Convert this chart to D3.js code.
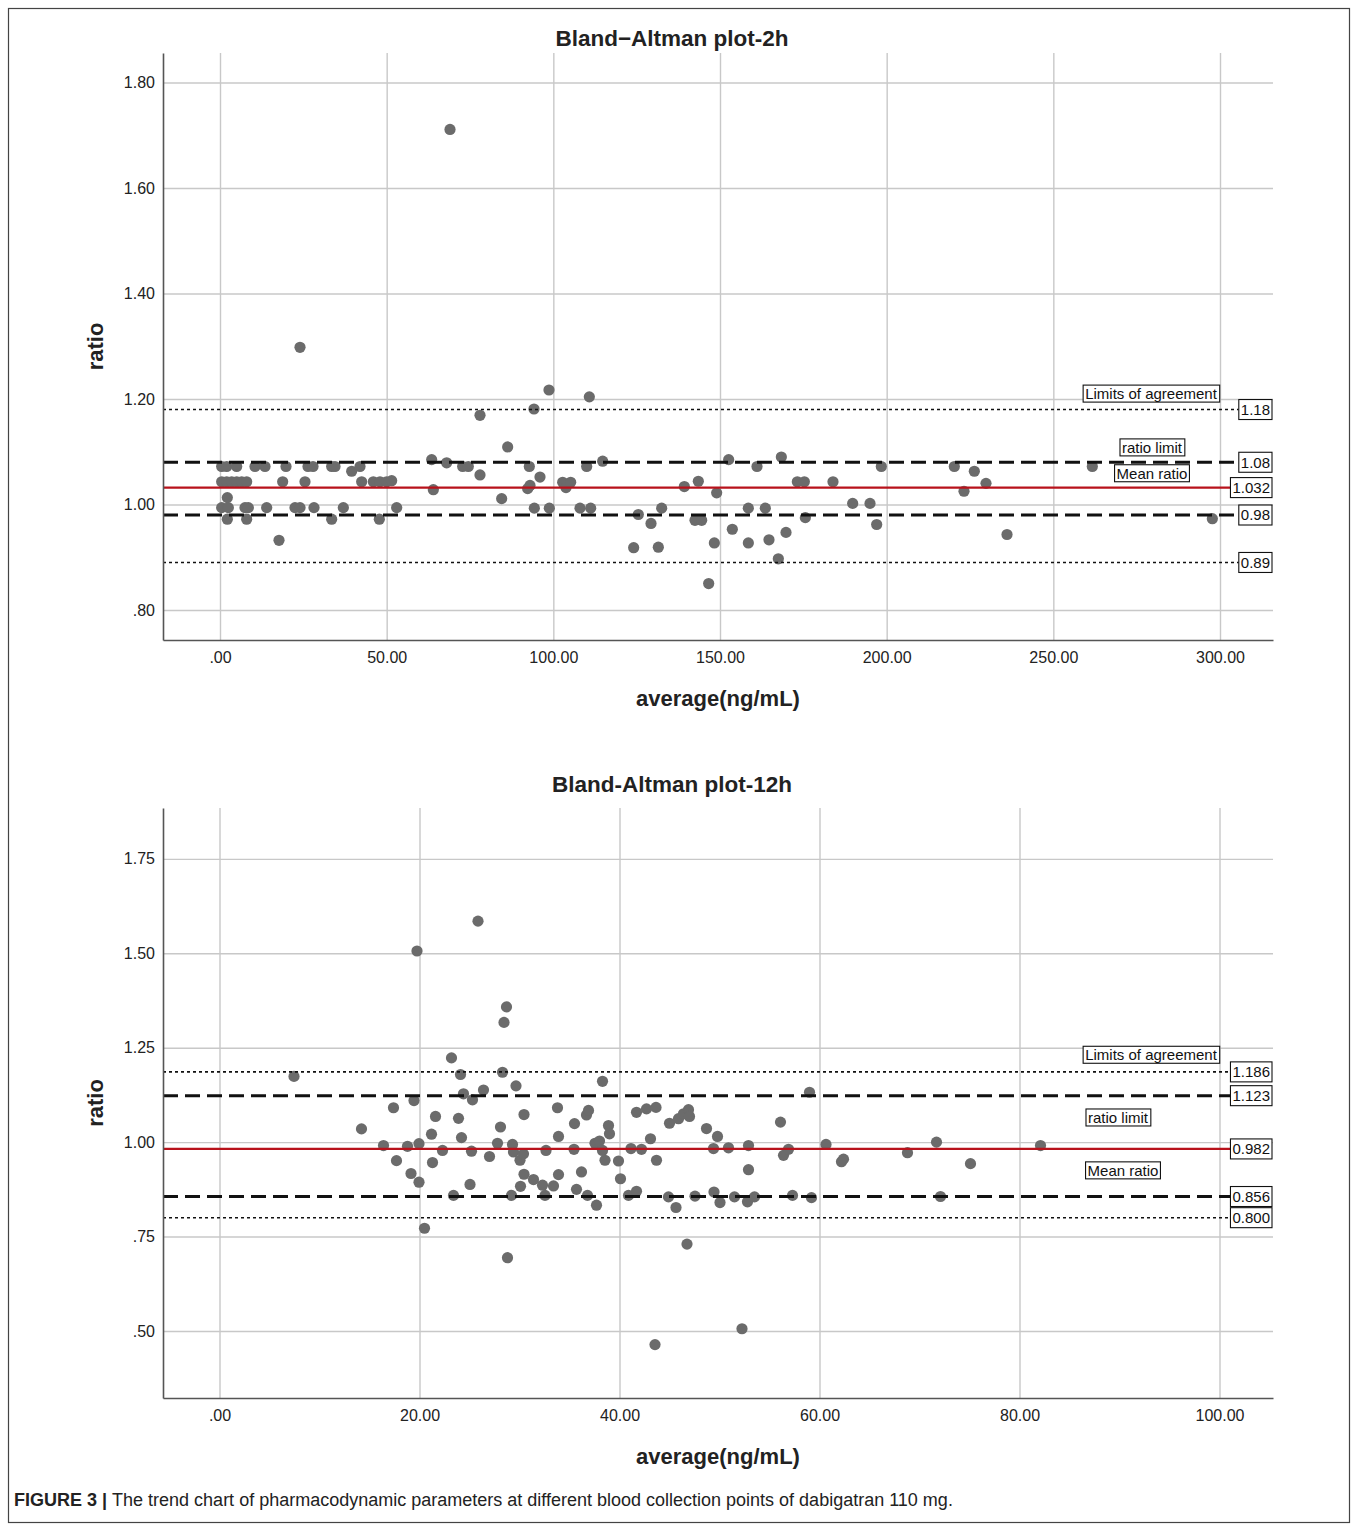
<!DOCTYPE html>
<html>
<head>
<meta charset="utf-8">
<script src="https://cdn.jsdelivr.net/npm/d3@7/dist/d3.min.js"></script>
<style>
  body { margin: 0; background: #fff; }
  text { font-family: "Liberation Sans", Arial, sans-serif; }
</style>
</head>
<body>
<svg id="chart" width="1358" height="1531"></svg>
<script>
// ---- data: [average ng/mL, ratio] ----
var points2h = [
  [0.5,1.072],[2.0,1.072],[5.0,1.072],[10.5,1.072],[13.5,1.072],[19.8,1.072],[26.4,1.072],[27.9,1.072],
  [33.5,1.072],[34.5,1.072],[39.5,1.063],[42.0,1.072],
  [0.5,1.043],[2.0,1.043],[3.5,1.043],[5.0,1.043],[6.5,1.043],[8.0,1.043],[18.8,1.043],[25.5,1.043],
  [42.5,1.043],[46.0,1.043],[48.0,1.043],[50.0,1.043],[51.5,1.045],
  [2.2,1.013],
  [0.5,0.994],[2.5,0.994],[7.5,0.994],[8.5,0.994],[14.0,0.994],[22.5,0.994],[24.0,0.994],[28.2,0.994],
  [37.0,0.994],[53.0,0.994],
  [2.2,0.972],[8.0,0.972],[33.5,0.972],[47.8,0.972],
  [17.7,0.932],[24.0,1.298],[69.0,1.711],
  [63.5,1.085],[68.0,1.079],[64.0,1.028],[72.8,1.072],[74.5,1.072],[78.0,1.169],[78.0,1.056],
  [84.5,1.011],[86.3,1.109],[92.3,1.030],[93.0,1.036],[92.8,1.072],[94.2,1.181],[94.3,0.993],[96.0,1.052],
  [98.7,1.217],[98.8,0.993],[102.8,1.042],[103.8,1.032],[105.2,1.042],[108.0,0.993],[110.0,1.072],
  [110.8,1.204],[111.2,0.993],[114.8,1.082],
  [124.1,0.918],[125.5,0.981],[129.3,0.964],[131.5,0.919],[132.5,0.993],[139.3,1.034],[142.5,0.970],
  [143.5,1.044],[144.5,0.970],[146.6,0.850],[148.3,0.927],[149.0,1.022],[152.6,1.085],[153.7,0.953],
  [158.5,0.993],[158.5,0.927],
  [161.1,1.072],[163.6,0.993],[164.7,0.933],[167.5,0.897],[168.4,1.090],[169.8,0.947],[173.2,1.043],
  [175.3,1.043],[175.6,0.975],[183.9,1.043],[189.8,1.002],[195.0,1.002],[197.0,0.962],[198.4,1.072],
  [220.3,1.072],[223.2,1.025],[226.3,1.063],[229.8,1.040],[236.1,0.943],[261.7,1.072],[297.7,0.973]
];

var points12h = [
  [7.45,1.174],[14.2,1.035],[16.4,0.991],[17.4,1.091],[17.7,0.951],[18.8,0.989],[19.15,0.917],[19.45,1.110],
  [19.75,1.506],[19.95,0.996],[19.95,0.894],[20.5,0.772],[21.2,1.021],[21.6,1.068],[21.3,0.946],[22.3,0.978],
  [23.2,1.223],[23.4,0.859],[23.9,1.063],[24.1,1.179],[24.2,1.012],[24.4,1.128],[25.05,0.888],[25.2,0.976],
  [25.3,1.112],[25.85,1.585],[26.4,1.138],[27.0,0.962],[27.8,0.997],[28.1,1.040],[28.3,1.185],[28.45,1.317],
  [28.7,1.358],[28.8,0.694],[29.2,0.859],[29.3,0.994],[29.4,0.974],[29.65,1.149],[30.05,0.952],[30.1,0.883],
  [30.4,0.969],[30.45,1.073],[30.45,0.915],[31.4,0.901],[32.3,0.886],[32.55,0.859],[32.65,0.978],[33.4,0.884],
  [33.8,1.091],[33.9,1.015],[33.9,0.914],[35.45,0.981],[35.5,1.049],[35.7,0.875],[36.2,0.921],[36.7,1.072],
  [36.8,0.859],[36.9,1.084],[37.55,0.997],[37.7,0.833],[38.0,1.003],[38.3,0.978],[38.3,1.161],[38.55,0.952],
  [38.9,1.044],[39.0,1.022],[39.9,0.950],[40.1,0.903],[40.9,0.859],[41.15,0.983],[41.7,0.870],[41.7,1.079],
  [42.2,0.981],[42.7,1.088],[43.1,1.009],[43.55,0.464],[43.65,1.092],[43.7,0.952],[44.9,0.855],[45.0,1.050],
  [45.65,0.827],[45.9,1.062],[46.4,1.075],[46.75,0.730],[46.9,1.086],[47.0,1.068],[47.55,0.857],[48.7,1.036],
  [49.4,0.983],[49.45,0.868],[49.8,1.015],[50.05,0.840],[50.9,0.985],[51.5,0.855],[52.25,0.506],[52.8,0.842],
  [52.9,0.991],[52.9,0.927],[53.5,0.855],[56.1,1.053],[56.4,0.965],[56.9,0.981],[57.3,0.859],[59.0,1.132],
  [59.2,0.853],[60.65,0.994],[62.2,0.948],[62.4,0.955],[68.8,0.972],[71.7,1.000],[72.1,0.856],[75.1,0.943],
  [82.1,0.991]
];

// reference lines: upper LoA, upper ratio limit, mean, lower ratio limit, lower LoA
var refValues2h  = [1.18, 1.08, 1.032, 0.98, 0.89];
var refLabels2h  = ["1.18", "1.08", "1.032", "0.98", "0.89"];
var refValues12h = [1.186, 1.123, 0.982, 0.856, 0.800];
var refLabels12h = ["1.186", "1.123", "0.982", "0.856", "0.800"];
var refKinds     = ["loa", "limit", "mean", "limit", "loa"];

var xTicks2h  = [0, 50, 100, 150, 200, 250, 300];
var yTicks2h  = [0.8, 1.0, 1.2, 1.4, 1.6, 1.8];
var xTicks12h = [0, 20, 40, 60, 80, 100];
var yTicks12h = [0.5, 0.75, 1.0, 1.25, 1.5, 1.75];

// legend boxes placed in data units: [text, x, y]
var notes2h  = [["Limits of agreement", 279.3, 1.210], ["ratio limit", 279.6, 1.108], ["Mean ratio", 279.6, 1.059]];
var notes12h = [["Limits of agreement", 93.15, 1.231], ["ratio limit", 89.85, 1.065], ["Mean ratio", 90.35, 0.925]];

var svg = d3.select("#chart");

svg.append("rect")
  .attr("x", 8.5).attr("y", 8.5)
  .attr("width", 1341).attr("height", 1514)
  .attr("fill", "none").attr("stroke", "#444").attr("stroke-width", 1.2);

// SPSS style numbers: ".00", "50.00", ".80"
var fmt = function(v) { return d3.format(".2f")(v).replace(/^0\./, "."); };

function drawPanel(p) {
  var left = 163, right = 1273;
  var x = d3.scaleLinear().domain(p.xDomain).range([left, right]);
  var y = d3.scaleLinear().domain(p.yDomain).range([p.bottom, p.top]);
  var g = svg.append("g");

  // grid
  g.append("g")
      .attr("transform", "translate(0," + p.bottom + ")")
      .call(d3.axisBottom(x).tickValues(p.xTicks).tickSize(-(p.bottom - p.top)).tickFormat(""))
      .call(a => a.select(".domain").remove())
      .selectAll("line").attr("stroke", "#c8c8c8").attr("stroke-width", 1.4);
  g.append("g")
      .attr("transform", "translate(" + left + ",0)")
      .call(d3.axisLeft(y).tickValues(p.yTicks).tickSize(-(right - left)).tickFormat(""))
      .call(a => a.select(".domain").remove())
      .selectAll("line").attr("stroke", "#c8c8c8").attr("stroke-width", 1.4);

  // points
  g.append("g").selectAll("circle")
    .data(p.points)
    .enter()
      .append("circle")
      .attr("cx", d => x(d[0]))
      .attr("cy", d => y(d[1]))
      .attr("r", 5.6)
      .attr("fill", "#6b6b6b");

  // reference lines + value boxes
  var refs = p.refValues.map((v, i) => ({ v: v, label: p.refLabels[i], kind: refKinds[i] }));
  var refG = g.append("g").selectAll("g").data(refs).enter().append("g");

  refG.append("text")
      .attr("x", right - 1 - 2)
      .attr("y", d => y(d.v))
      .attr("dy", "0.36em")
      .attr("text-anchor", "end")
      .attr("font-size", 15)
      .attr("fill", "#111")
      .text(d => d.label);

  refG.each(function(d) {
    var t = d3.select(this).select("text");
    var w = t.node().getComputedTextLength();
    d.boxLeft = right - 1 - w - 4;
    d3.select(this).insert("rect", "text")
        .attr("x", d.boxLeft)
        .attr("y", y(d.v) - 10)
        .attr("width", w + 4)
        .attr("height", 20)
        .attr("fill", "#fff")
        .attr("stroke", "#111")
        .attr("stroke-width", 1.1);
    d3.select(this).insert("line", "rect")
        .attr("x1", left)
        .attr("x2", d.boxLeft)
        .attr("y1", y(d.v))
        .attr("y2", y(d.v))
        .attr("stroke", d.kind === "mean" ? "#b8121b" : "#111")
        .attr("stroke-width", d.kind === "mean" ? 2.2 : d.kind === "limit" ? 3 : 1.6)
        .attr("stroke-dasharray", d.kind === "limit" ? "15,7" : d.kind === "loa" ? "3,3" : null);
  });

  // legend style notes
  var notes = g.append("g").selectAll("g").data(p.notes).enter().append("g");
  notes.append("text")
      .attr("x", d => x(d[1]))
      .attr("y", d => y(d[2]))
      .attr("dy", "0.36em")
      .attr("text-anchor", "middle")
      .attr("font-size", 15)
      .attr("fill", "#111")
      .text(d => d[0]);
  notes.each(function() {
    var b = d3.select(this).select("text").node().getBBox();
    d3.select(this).insert("rect", "text")
        .attr("x", b.x - 2).attr("y", b.y)
        .attr("width", b.width + 4).attr("height", b.height)
        .attr("fill", "#fff").attr("stroke", "#111").attr("stroke-width", 1.1);
  });

  // axes
  g.append("g")
      .attr("transform", "translate(" + left + ",0)")
      .call(d3.axisLeft(y).tickValues(p.yTicks).tickSize(0).tickPadding(8).tickFormat(fmt).tickSizeOuter(0))
      .call(a => a.select(".domain").attr("stroke", "#555").attr("stroke-width", 1.6))
      .selectAll("text").attr("font-size", 16).attr("fill", "#222").style("font-family", "Liberation Sans, Arial, sans-serif");
  g.append("g")
      .attr("transform", "translate(0," + p.bottom + ")")
      .call(d3.axisBottom(x).tickValues(p.xTicks).tickSize(0).tickPadding(12).tickFormat(fmt).tickSizeOuter(0))
      .call(a => a.select(".domain").attr("stroke", "#555").attr("stroke-width", 1.6))
      .selectAll("text").attr("font-size", 16).attr("fill", "#222").style("font-family", "Liberation Sans, Arial, sans-serif");

  // titles
  g.append("text")
      .attr("x", 672).attr("y", p.titleY)
      .attr("text-anchor", "middle")
      .attr("font-size", 22.5).attr("font-weight", "bold").attr("fill", "#222")
      .text(p.title);
  g.append("text")
      .attr("x", 718).attr("y", p.bottom + 66)
      .attr("text-anchor", "middle")
      .attr("font-size", 22).attr("font-weight", "bold").attr("fill", "#222")
      .text("average(ng/mL)");
  g.append("text")
      .attr("transform", "translate(95," + ((p.top + p.bottom) / 2) + ") rotate(-90)")
      .attr("dy", "0.35em")
      .attr("text-anchor", "middle")
      .attr("font-size", 22).attr("font-weight", "bold").attr("fill", "#222")
      .text("ratio");
}

drawPanel({
  title: "Bland\u2212Altman plot-2h",
  top: 53, bottom: 640, titleY: 46,
  xDomain: [-17.1, 315.9], yDomain: [0.743, 1.856],
  xTicks: xTicks2h, yTicks: yTicks2h,
  points: points2h,
  refValues: refValues2h, refLabels: refLabels2h,
  notes: notes2h
});

drawPanel({
  title: "Bland-Altman plot-12h",
  top: 808, bottom: 1398, titleY: 792,
  xDomain: [-5.65, 105.35], yDomain: [0.3226, 1.8846],
  xTicks: xTicks12h, yTicks: yTicks12h,
  points: points12h,
  refValues: refValues12h, refLabels: refLabels12h,
  notes: notes12h
});

// caption
var cap = svg.append("text")
    .attr("x", 14).attr("y", 1506)
    .attr("font-size", 18).attr("fill", "#222");
cap.append("tspan").attr("font-weight", "bold").text("FIGURE 3 | ");
cap.append("tspan").text("The trend chart of pharmacodynamic parameters at different blood collection points of dabigatran 110 mg.");
</script>
</body>
</html>
